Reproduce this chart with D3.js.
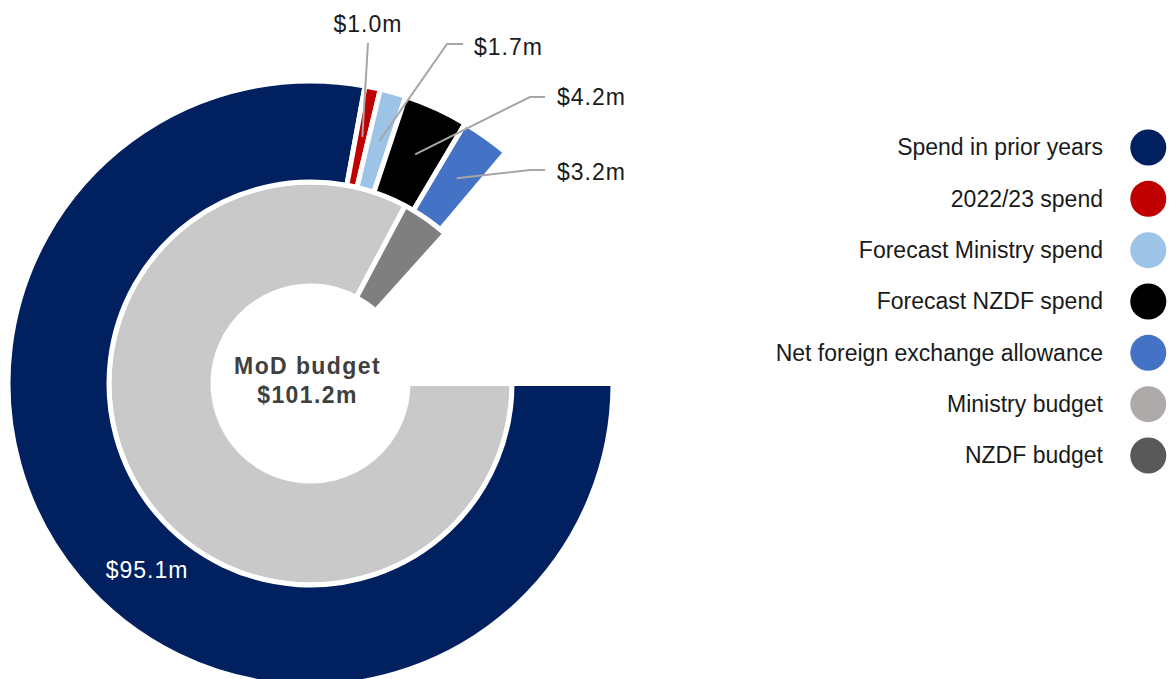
<!DOCTYPE html>
<html>
<head>
<meta charset="utf-8">
<script src="https://cdn.jsdelivr.net/npm/d3@7/dist/d3.min.js"></script>
<style>
  body { margin: 0; background: #fff; }
  text { font-family: "Liberation Sans", Arial, sans-serif; }
</style>
</head>
<body>
<svg id="chart" width="1169" height="679"></svg>
<script>
// outer ring: spending, inner ring: budget (values in $m)
const outerNames = ['Spend in prior years', '2022/23 spend', 'Forecast Ministry spend', 'Forecast NZDF spend', 'Net foreign exchange allowance'];
const outerValues = [95.1, 1.0, 1.7, 4.2, 3.2];
const outerLabels = ['$95.1m', '$1.0m', '$1.7m', '$4.2m', '$3.2m'];
const outerHidden = 16.9; // blank part of the ring, as in the original doughnut

const innerNames = ['Ministry budget', 'NZDF budget'];
const innerValues = [96.7, 4.5];
const innerHidden = 15.6;

const centreLabel = ['MoD budget', '$101.2m'];

const legendNames = outerNames.concat(innerNames);

// colours
const outerColours = ['#002060', '#c00000', '#9dc3e6', '#000000', '#4472c4'];
const innerColours = ['#c9c9c9', '#7f7f7f'];
const legendColours = ['#002060', '#c00000', '#9dc3e6', '#000000', '#4472c4', '#aeaaaa', '#595959'];

const svg = d3.select('#chart');
const cx = 310.5, cy = 383.5;
const g = svg.append('g').attr('transform', `translate(${cx},${cy})`);

// pie starts at 3 o'clock, hidden slice closes the circle
const pie = d3.pie()
	.sort(null)
	.value((d) => {return d.value;})
	.startAngle(Math.PI / 2)
	.endAngle(Math.PI / 2 + 2 * Math.PI);

const outerData = outerValues.map((v, i) => ({name: outerNames[i], value: v, colour: outerColours[i], label: outerLabels[i]}));
outerData.push({name: 'hidden', value: outerHidden});
const innerData = innerValues.map((v, i) => ({name: innerNames[i], value: v, colour: innerColours[i]}));
innerData.push({name: 'hidden', value: innerHidden});

const outerArc = d3.arc().innerRadius(201.5).outerRadius(302.5);
const innerArc = d3.arc().innerRadius(97.5).outerRadius(201.5);

const outerSlices = pie(outerData).filter((d) => d.data.name !== 'hidden');
const innerSlices = pie(innerData).filter((d) => d.data.name !== 'hidden');

g.selectAll('path.inner')
	.data(innerSlices)
	.enter().append('path')
	.attr('class', 'inner')
	.attr('d', innerArc)
	.attr('fill', (d) => d.data.colour)
	.attr('stroke', '#fff')
	.attr('stroke-width', 5);

g.selectAll('path.outer')
	.data(outerSlices)
	.enter().append('path')
	.attr('class', 'outer')
	.attr('d', outerArc)
	.attr('fill', (d) => d.data.colour)
	.attr('stroke', '#fff')
	.attr('stroke-width', 5);

// big slice label sits inside the ring
g.append('text')
	.attr('x', 147 - cx)
	.attr('y', 578 - cy)
	.attr('text-anchor', 'middle')
	.attr('font-size', 23)
	.attr('letter-spacing', 1)
	.attr('fill', '#fff')
	.text(outerSlices[0].data.label);

// callouts for the small slices: where the text sits and where the leader bends
const callouts = [
	{x: 368, y: 32, anchor: 'middle', path: [[368, 43]]},
	{x: 474, y: 55, anchor: 'start', path: [[463, 44], [447, 44]]},
	{x: 557, y: 105, anchor: 'start', path: [[545, 97], [530, 97]]},
	{x: 557, y: 180, anchor: 'start', path: [[545, 170], [530, 170]]}
];

const leader = d3.line()
	.x((d) => {return d[0];})
	.y((d) => {return d[1];});

outerSlices.slice(1).forEach((s, i) => {
	let c = callouts[i];
	let end = outerArc.centroid(s);
	let pts = c.path.map((p) => [p[0] - cx, p[1] - cy]).concat([end]);
	g.append('path')
		.attr('d', leader(pts))
		.attr('fill', 'none')
		.attr('stroke', '#a6a6a6')
		.attr('stroke-width', 2);
	g.append('text')
		.attr('x', c.x - cx)
		.attr('y', c.y - cy)
		.attr('text-anchor', c.anchor)
		.attr('font-size', 23)
		.attr('letter-spacing', 1)
		.attr('fill', '#1a1a1a')
		.text(s.data.label);
});

// centre text
g.selectAll('text.centre')
	.data(centreLabel)
	.enter().append('text')
	.attr('class', 'centre')
	.attr('x', -3)
	.attr('y', (d, i) => i === 0 ? -9.5 : 19.5)
	.attr('text-anchor', 'middle')
	.attr('font-size', 23)
	.attr('letter-spacing', 1.4)
	.attr('font-weight', 'bold')
	.attr('fill', '#404040')
	.text((d) => d);

// legend on the right
const legendY = d3.scalePoint()
	.domain(legendNames)
	.range([147.5, 455.5]);

const legend = svg.append('g');
const item = legend.selectAll('g')
	.data(legendNames)
	.enter().append('g')
	.attr('transform', (d) => `translate(0,${legendY(d)})`);

item.append('circle')
	.attr('cx', 1148.3)
	.attr('r', 18)
	.attr('fill', (d, i) => legendColours[i]);

item.append('text')
	.attr('x', 1103)
	.attr('dy', '0.34em')
	.attr('text-anchor', 'end')
	.attr('font-size', 23)
	.attr('fill', '#1a1a1a')
	.text((d) => d);
</script>
</body>
</html>
